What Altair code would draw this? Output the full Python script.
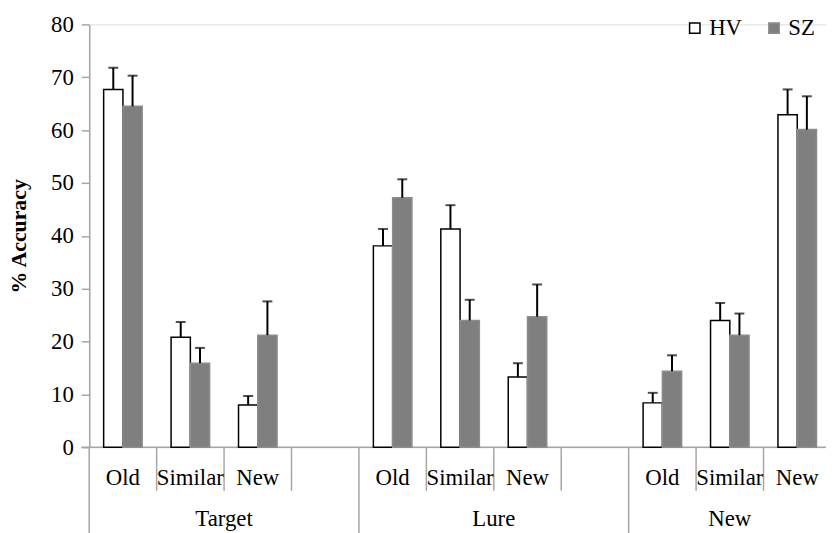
import altair as alt
import pandas as pd

groups = ["Target", "Lure", "New"]
subcats = ["Old", "Similar", "New"]
series = ["HV", "SZ"]

hv_mean = [67.7, 20.8, 8.0, 38.1, 41.3, 13.3, 8.4, 24.0, 62.9]
hv_err = [4.1, 2.9, 1.7, 3.2, 4.5, 2.6, 1.9, 3.3, 4.8]
sz_mean = [64.5, 15.9, 21.2, 47.2, 24.0, 24.7, 14.4, 21.2, 60.1]
sz_err = [5.8, 2.9, 6.4, 3.5, 3.9, 6.1, 3.0, 4.1, 6.3]

y_ticks = [0, 10, 20, 30, 40, 50, 60, 70, 80]

# slot keys (an empty slot follows each group except the last)
slots = []
group_slots = {}
for gi, g in enumerate(groups):
    gs = [f"{g}|{s}" for s in subcats]
    if gi < len(groups) - 1:
        gs.append(f"{g}|gap")
    group_slots[g] = gs
    slots.extend(gs)

rows = []
for gi, g in enumerate(groups):
    for si, s in enumerate(subcats):
        k = gi * 3 + si
        for name, m, e in (("HV", hv_mean, hv_err), ("SZ", sz_mean, sz_err)):
            rows.append(dict(slot=f"{g}|{s}", series=name, value=m[k], top=m[k] + e[k]))
df = pd.DataFrame(rows)

sub_labels = pd.DataFrame(
    [dict(slot=f"{g}|{s}", text=s) for g in groups for s in subcats]
)
sep_sub = pd.DataFrame(
    [dict(slot=s) for g in groups for s in group_slots[g][1:]]
)
sep_grp = pd.DataFrame([dict(slot=group_slots[g][0]) for g in groups])
grp_even = pd.DataFrame(
    [dict(slot=group_slots[g][len(group_slots[g]) // 2], text=g)
     for g in groups if len(group_slots[g]) % 2 == 0]
)
grp_odd = pd.DataFrame(
    [dict(slot=group_slots[g][len(group_slots[g]) // 2], text=g)
     for g in groups if len(group_slots[g]) % 2 == 1]
)

FONT = "Liberation Serif"
AX_GRAY = "#a6a6a6"

xscale = alt.Scale(domain=slots, range=[0, 749], paddingInner=0, paddingOuter=0)
offscale = alt.Scale(domain=series, paddingInner=0, paddingOuter=0.75)
yscale = alt.Scale(domain=[0, 80])

X = alt.X("slot:N", scale=xscale, axis=None)
XO = alt.XOffset("series:N", scale=offscale)

legend = alt.Legend(
    title=None, orient="none", legendX=600, legendY=-8, direction="horizontal",
    symbolType="square", symbolSize=110, symbolStrokeWidth=1.5,
    labelFont=FONT, labelFontSize=23, labelColor="black",
    labelOffset=3, columnPadding=20,
)

bars = alt.Chart(df).mark_bar(strokeWidth=1.5).encode(
    x=X,
    xOffset=XO,
    y=alt.Y(
        "value:Q", scale=yscale,
        axis=alt.Axis(
            values=y_ticks, grid=False, domainColor=AX_GRAY, domainWidth=1.5,
            tickColor=AX_GRAY, tickSize=8, tickWidth=1.5,
            labelFont=FONT, labelFontSize=23, labelColor="black", labelPadding=8,
            title="% Accuracy", titleFont=FONT, titleFontSize=22,
            titleFontWeight="bold", titleColor="black",
            titleX=-71, titleY=213.5, titleAngle=270,
            titleBaseline="middle", titleAlign="center",
        ),
    ),
    fill=alt.Fill("series:N", scale=alt.Scale(domain=series, range=["#ffffff", "#7f7f7f"]), legend=legend),
    stroke=alt.Stroke("series:N", scale=alt.Scale(domain=series, range=["#000000", "#8c8c8c"]), legend=legend),
)

err = alt.Chart(df).mark_rule(color="black", strokeWidth=2).encode(
    x=X, xOffset=XO, y=alt.Y("value:Q", scale=yscale), y2="top:Q"
)
caps = alt.Chart(df).mark_tick(color="black", thickness=2, size=10).encode(
    x=X, xOffset=XO, y=alt.Y("top:Q", scale=yscale)
)

one = pd.DataFrame({"a": [0]})
xline = alt.Chart(one).mark_rule(color=AX_GRAY, strokeWidth=1.5).encode(
    x=alt.value(-8), x2=alt.value(760), y=alt.value(427)
)
subsep = alt.Chart(sep_sub).mark_rule(color=AX_GRAY, strokeWidth=1.5).encode(
    x=alt.X("slot:N", scale=xscale, axis=None, bandPosition=0),
    y=alt.value(427), y2=alt.value(471),
)
grpsep = alt.Chart(sep_grp).mark_rule(color=AX_GRAY, strokeWidth=1.5).encode(
    x=alt.X("slot:N", scale=xscale, axis=None, bandPosition=0),
    y=alt.value(427), y2=alt.value(520),
)
sublab = alt.Chart(sub_labels).mark_text(
    font=FONT, fontSize=23, color="black", baseline="alphabetic", align="center"
).encode(x=X, y=alt.value(465), text="text:N")
glab_even = alt.Chart(grp_even).mark_text(
    font=FONT, fontSize=23, color="black", baseline="alphabetic", align="center"
).encode(x=alt.X("slot:N", scale=xscale, axis=None, bandPosition=0), y=alt.value(507), text="text:N")
glab_odd = alt.Chart(grp_odd).mark_text(
    font=FONT, fontSize=23, color="black", baseline="alphabetic", align="center"
).encode(x=X, y=alt.value(507), text="text:N")

chart = alt.layer(
    xline, subsep, grpsep, bars, err, caps, sublab, glab_even, glab_odd
).properties(
    width=744, height=427,
    padding={"left": 82, "top": 14, "right": 0, "bottom": 84},
    autosize=alt.AutoSizeParams(type="none"),
).configure_view(stroke=None).configure(background="white")

chart.save("out.html", embed_options={"renderer": "svg", "actions": False})
